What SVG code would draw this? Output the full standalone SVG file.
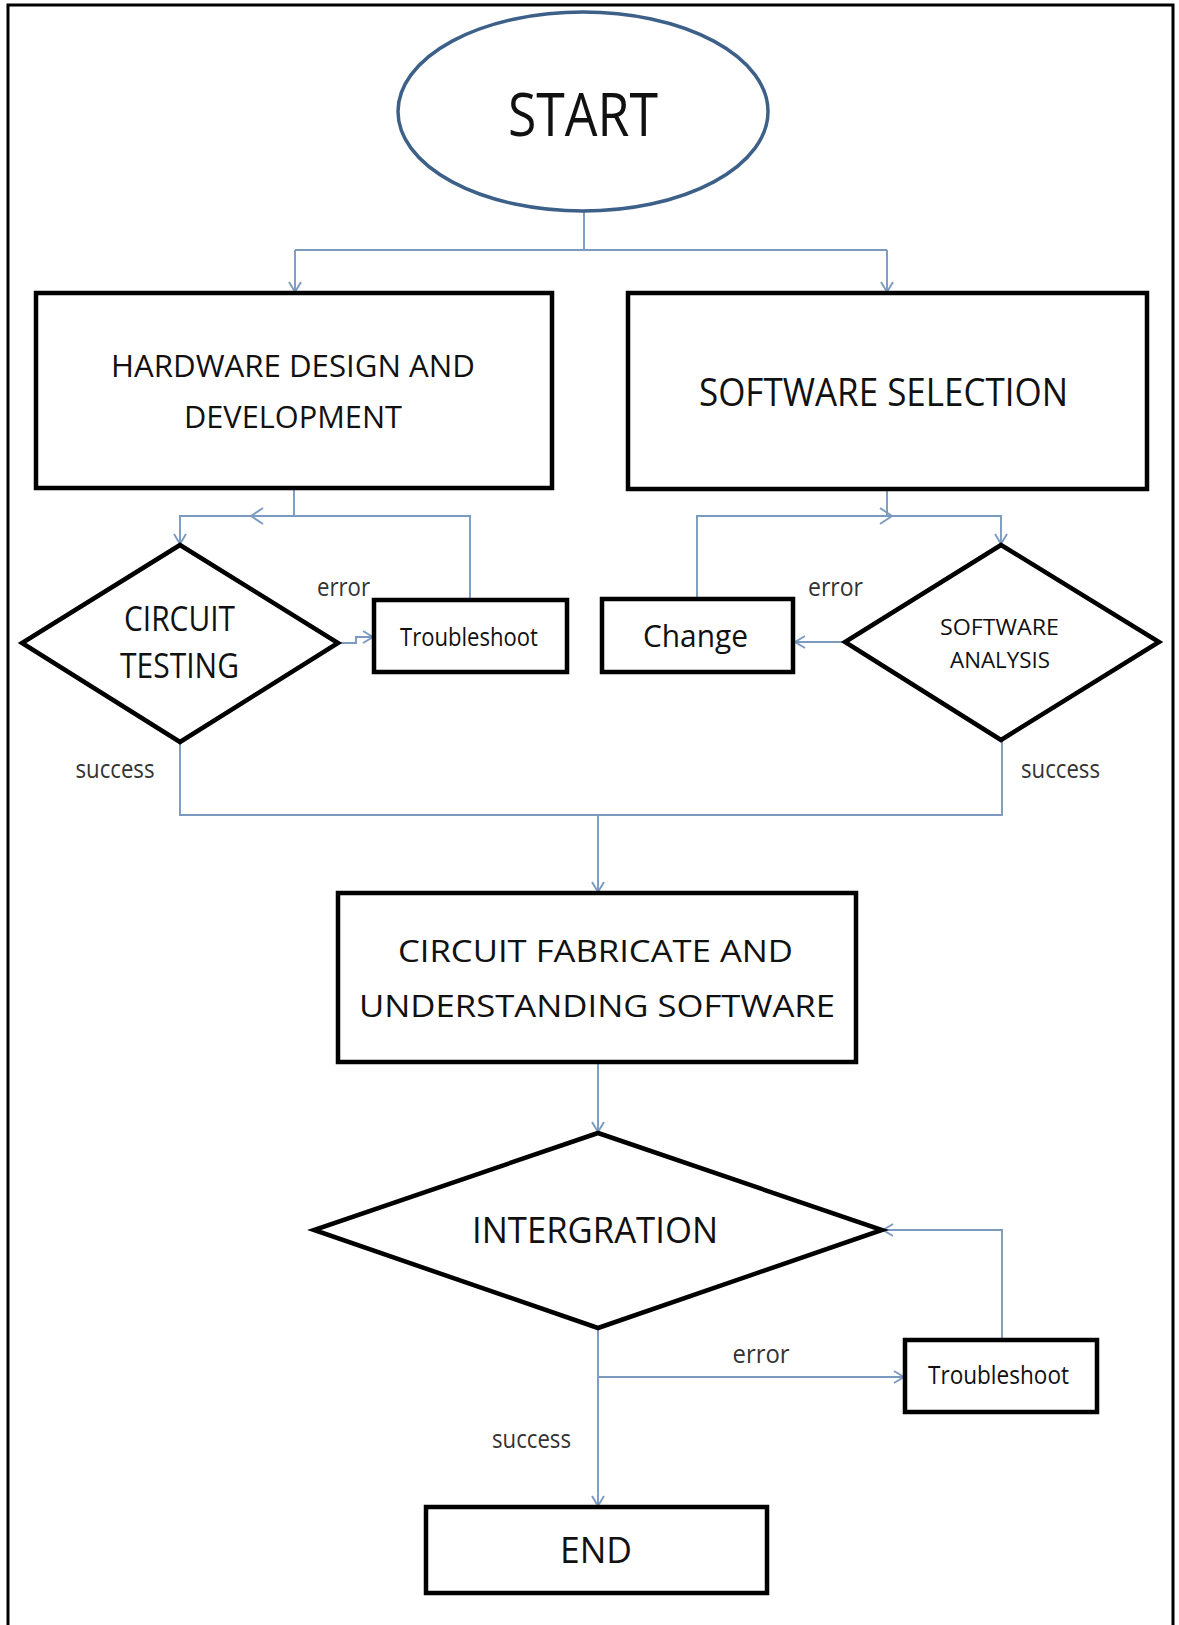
<svg xmlns="http://www.w3.org/2000/svg" width="1179" height="1625" viewBox="0 0 1179 1625">
<style>
.box{fill:#fff;stroke:#000;stroke-width:4.5}
.dia{fill:#fff;stroke:#000;stroke-width:4.5;stroke-linejoin:miter}
.con{fill:none;stroke:#7b9ac0;stroke-width:1.9}
.t{font-family:"Open Sans","Noto Sans","Liberation Sans",sans-serif;fill:#111;text-anchor:middle}
.lbl{font-family:"Open Sans","Noto Sans","Liberation Sans",sans-serif;fill:#333;text-anchor:middle;font-size:26px}
</style>
<defs>
<marker id="ah" markerUnits="userSpaceOnUse" markerWidth="14" markerHeight="16" refX="11" refY="7" orient="auto" viewBox="0 0 14 14">
<path d="M1,1 L11,7 L1,13" fill="none" stroke="#7b9ac0" stroke-width="1.9"/>
</marker>
</defs>
<rect x="0" y="0" width="1179" height="1625" fill="#fff"/>
<path d="M8,1630 V5 H1173 V1630" fill="none" stroke="#000" stroke-width="3"/>

<g id="connectors">
<path class="con" d="M584,211 V250"/>
<path class="con" d="M295,250 H887"/>
<path class="con" d="M295,250 V292" marker-end="url(#ah)"/>
<path class="con" d="M887,250 V292" marker-end="url(#ah)"/>
<path class="con" d="M294,488 V516"/>
<path class="con" d="M470,600 V516 H180 V544" marker-end="url(#ah)"/>
<polyline class="con" points="263,508 251,516 263,524"/>
<path class="con" d="M338,643 H356 V637 H373" marker-end="url(#ah)"/>
<path class="con" d="M887,489 V516"/>
<path class="con" d="M697,599 V516 H1001 V544" marker-end="url(#ah)"/>
<polyline class="con" points="880,508 892,516 880,524"/>
<path class="con" d="M845,642 H795" marker-end="url(#ah)"/>
<path class="con" d="M180,742 V815 H1002 V740"/>
<path class="con" d="M598,815 V892" marker-end="url(#ah)"/>
<path class="con" d="M598,1062 V1132" marker-end="url(#ah)"/>
<path class="con" d="M598,1328 V1506" marker-end="url(#ah)"/>
<path class="con" d="M598,1377 H904" marker-end="url(#ah)"/>
<path class="con" d="M1002,1340 V1230 H883" marker-end="url(#ah)"/>
</g>

<g id="start">
<ellipse cx="583" cy="111.5" rx="185" ry="99.5" fill="#fff" stroke="#3d6089" stroke-width="3.5"/>
<text class="t" x="583" y="136" font-size="60" textLength="150" lengthAdjust="spacingAndGlyphs">START</text>
</g>

<g id="hardware">
<rect class="box" x="36" y="293" width="516" height="195"/>
<text class="t" x="293" y="377" font-size="31" textLength="364" lengthAdjust="spacingAndGlyphs">HARDWARE  DESIGN AND</text>
<text class="t" x="293" y="428" font-size="31" textLength="218" lengthAdjust="spacingAndGlyphs">DEVELOPMENT</text>
</g>

<g id="software">
<rect class="box" x="628" y="293" width="519" height="196"/>
<text class="t" x="883.5" y="406" font-size="39" textLength="369" lengthAdjust="spacingAndGlyphs">SOFTWARE SELECTION</text>
</g>

<g id="circuit-testing">
<polygon class="dia" points="180,545 338,643 180,742 22,643"/>
<text class="t" x="179.5" y="631" font-size="35" textLength="111" lengthAdjust="spacingAndGlyphs">CIRCUIT</text>
<text class="t" x="179.5" y="678" font-size="35" textLength="119" lengthAdjust="spacingAndGlyphs">TESTING</text>
</g>

<g id="troubleshoot1">
<rect class="box" x="374" y="600" width="193" height="72"/>
<text class="t" x="469" y="646" font-size="25" fill="#222" textLength="138" lengthAdjust="spacingAndGlyphs">Troubleshoot</text>
</g>

<g id="change">
<rect class="box" x="602" y="599" width="191" height="73"/>
<text class="t" x="695.5" y="647" font-size="31" fill="#222" textLength="105" lengthAdjust="spacingAndGlyphs">Change</text>
</g>

<g id="software-analysis">
<polygon class="dia" points="1001,545 1159,642 1001,740 845,642"/>
<text class="t" x="999.5" y="635" font-size="22" fill="#222" textLength="119" lengthAdjust="spacingAndGlyphs">SOFTWARE</text>
<text class="t" x="1000" y="668" font-size="22" fill="#222" textLength="100" lengthAdjust="spacingAndGlyphs">ANALYSIS</text>
</g>

<g id="labels">
<text class="lbl" x="343.5" y="596" textLength="53" lengthAdjust="spacingAndGlyphs">error</text>
<text class="lbl" x="835.5" y="596" textLength="55" lengthAdjust="spacingAndGlyphs">error</text>
<text class="lbl" x="115" y="778" textLength="79" lengthAdjust="spacingAndGlyphs">success</text>
<text class="lbl" x="1060.5" y="778" textLength="79" lengthAdjust="spacingAndGlyphs">success</text>
<text class="lbl" x="761" y="1363" textLength="57" lengthAdjust="spacingAndGlyphs">error</text>
<text class="lbl" x="531.5" y="1448" textLength="79" lengthAdjust="spacingAndGlyphs">success</text>
</g>

<g id="fabricate">
<rect class="box" x="338" y="893" width="518" height="169"/>
<text class="t" x="595.5" y="962" font-size="31" textLength="395" lengthAdjust="spacingAndGlyphs">CIRCUIT FABRICATE AND</text>
<text class="t" x="597" y="1017" font-size="31" textLength="476" lengthAdjust="spacingAndGlyphs">UNDERSTANDING SOFTWARE</text>
</g>

<g id="integration">
<polygon class="dia" points="598,1133 882,1230 598,1328 314,1230"/>
<text class="t" x="595" y="1243" font-size="36" textLength="246" lengthAdjust="spacingAndGlyphs">INTERGRATION</text>
</g>

<g id="troubleshoot2">
<rect class="box" x="905" y="1340" width="192" height="72"/>
<text class="t" x="998.5" y="1384" font-size="25" fill="#222" textLength="141" lengthAdjust="spacingAndGlyphs">Troubleshoot</text>
</g>

<g id="end">
<rect class="box" x="426" y="1507" width="341" height="86"/>
<text class="t" x="596" y="1563" font-size="36" textLength="72" lengthAdjust="spacingAndGlyphs">END</text>
</g>
</svg>
